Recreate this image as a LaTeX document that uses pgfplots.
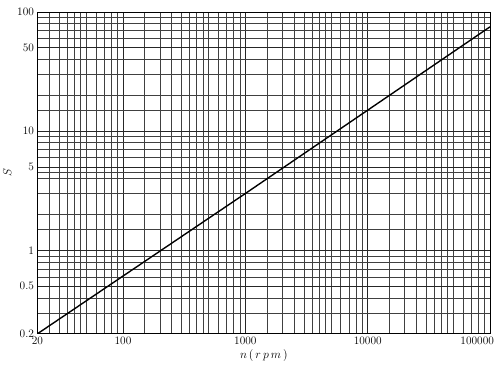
\documentclass[border=0pt]{standalone}
\usepackage{pgfplots}
\pgfplotsset{compat=1.18}
\usetikzlibrary{calc}
\begin{document}
\begin{tikzpicture}
\begin{axis}[
  name=ax,
  xmode=log, ymode=log,
  scale only axis,
  width=457pt, height=325pt,
  xmin=20, xmax=100000,
  ymin=0.2, ymax=100,
  xtick={20,100,1000,10000,100000},
  xticklabels={20,100,1000,10000,{\makebox[0pt][c]{100000\hspace*{26pt}}}},
  ytick={0.2,0.5,1,5,10,50,100},
  yticklabels={0.2,0.5,1,5,10,50,100},
  minor xtick={25,30,35,40,45,50,60,70,80,90,
    150,200,250,300,350,400,450,500,600,700,800,900,
    1500,2000,2500,3000,3500,4000,4500,5000,6000,7000,8000,9000,
    15000,20000,25000,30000,35000,40000,45000,50000,60000,70000,80000,90000},
  minor ytick={0.3,0.4,0.6,0.7,0.8,0.9,1.5,2,3,4,4.5,6,7,8,9,15,20,30,40,60,70,80,90},
  grid=both,
  major grid style={black!85, line width=0.6pt},
  minor grid style={black!75, line width=0.5pt},
  tick style={draw=none},
  axis line style={black, line width=0.7pt},
  xlabel={$n\,(\,r\,p\,m\,)$},
  ylabel={$S$},
  xlabel style={font=\large, yshift=2pt},
  ylabel style={font=\large, yshift=-1pt},
  tick label style={font=\fontsize{11.5}{13}\selectfont},
]
\addplot[black, line width=1.4pt] coordinates {(20,0.2) (1000,3.0) (100000,75)};
\end{axis}
\path ($(ax.south west)+(-33pt,-40pt)$) rectangle ($(ax.north east)+(9pt,12pt)$);
\end{tikzpicture}
\end{document}
